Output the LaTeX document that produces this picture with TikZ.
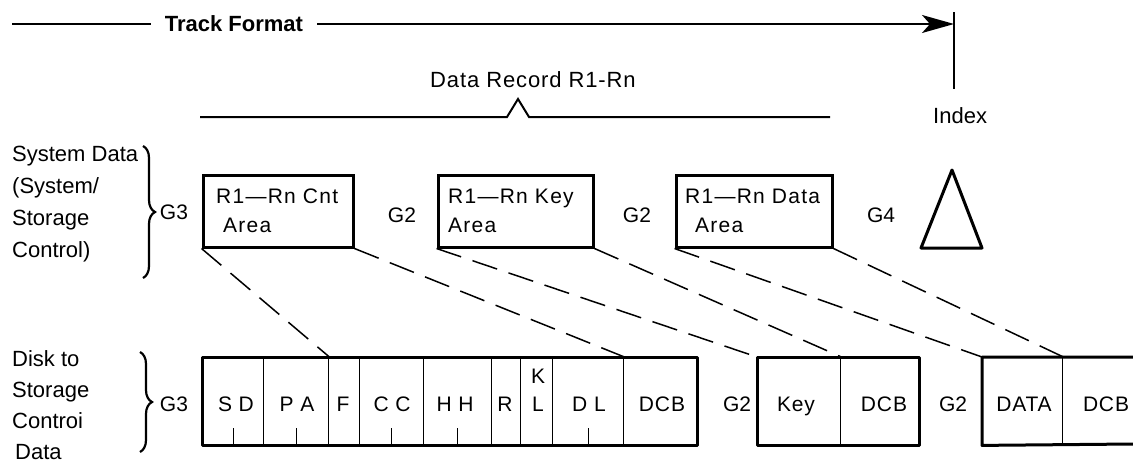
\documentclass[tikz,border=0pt]{standalone}
\usepackage{fontspec}
\setmainfont{Liberation Sans}
\newfontfamily\boxfont[LetterSpace=6]{Liberation Sans}
\newfontfamily\recfont[LetterSpace=4]{Liberation Sans}
\usetikzlibrary{decorations.pathreplacing,arrows.meta}
\begin{document}
\begin{tikzpicture}[x=1pt,y=-1pt,
  lbl/.style={font=\fontsize{22}{26}\selectfont, inner sep=0pt, anchor=base west},
  gl/.style={font=\fontsize{21}{25}\selectfont, inner sep=0pt, anchor=base},
  bx/.style={font=\boxfont\fontsize{21}{25}\selectfont, inner sep=0pt, anchor=base west},
  ct/.style={font=\recfont\fontsize{21}{25}\selectfont, inner sep=0pt, anchor=base},
  area/.style={draw, line width=3pt, minimum width=#1, minimum height=72pt, inner sep=0pt},
  cell/.style={draw, line width=1.4pt, minimum height=87pt, inner sep=0pt, anchor=north west, minimum width=#1},
  frame/.style={line width=3pt, line join=round},
  conn/.style={line width=1.5pt, dash pattern=on 26pt off 12pt},
  mainline/.style={line width=2pt},
  tick/.style={line width=1.4pt},
  br/.style={decorate, decoration={brace, amplitude=12pt}, line width=2.2pt},
]
\useasboundingbox (0,0) rectangle (1133,463);

% ---- top: Track Format ----
\coordinate (tl) at (12,24);
\node[font=\bfseries\fontsize{22}{26}\selectfont, inner xsep=14pt, inner ysep=0pt] (tf) at (234,24) {Track Format};
\coordinate (arrtip) at (954,24);
\coordinate (idxtop) at (954,12);
\coordinate (idxbot) at (954,89);
\draw[mainline] (tl) -- (tf.west);
\draw[mainline, -{Stealth[length=32pt, width=18pt, inset=8pt]}] (tf.east) -- (arrtip);
\draw[line width=2.2pt] (idxtop) -- (idxbot);
\node[lbl] (index) at (933,123) {Index};

% ---- Data record line ----
\node[lbl, font=\recfont\fontsize{22}{26}\selectfont] (drec) at (430,87) {Data Record R1-Rn};
\coordinate (d0) at (200,117);
\coordinate (d1) at (507,117);
\coordinate (d2) at (518,99);
\coordinate (d3) at (529,117);
\coordinate (d4) at (830,117);
\draw[mainline, line join=miter] (d0) -- (d1) -- (d2) -- (d3) -- (d4);

% ---- left labels ----
\node[lbl] (s1) at (12,161) {System Data};
\node[lbl] (s2) at (12,193) {(System/};
\node[lbl] (s3) at (12,225) {Storage};
\node[lbl] (s4) at (12,257) {Control)};
\node[lbl] (b1) at (12,366) {Disk to};
\node[lbl] (b2) at (12,397) {Storage};
\node[lbl] (b3) at (12,428) {Controi};
\node[lbl] (b4) at (15,459) {Data};
\coordinate (br1a) at (143,146);
\coordinate (br1b) at (143,278);
\coordinate (br2a) at (140,352);
\coordinate (br2b) at (140,452);
\draw[br] (br1a) -- (br1b);
\draw[br] (br2a) -- (br2b);

% ---- top row of areas ----
\node[gl] (g3t) at (174,219) {G3};
\node[area=150pt] (cnt) at (278,211) {};
\node[bx] at (216,203) {R1—Rn Cnt};
\node[bx] at (223,232) {Area};
\node[gl] (g2t1) at (402,222) {G2};
\node[area=155pt] (key) at (515.5,211) {};
\node[bx] at (448,203) {R1—Rn Key};
\node[bx] at (448,232) {Area};
\node[gl] (g2t2) at (637,222) {G2};
\node[area=156pt] (dat) at (754,211) {};
\node[bx] at (685,203) {R1—Rn Data};
\node[bx] at (695,232) {Area};
\node[gl] (g4) at (881,222) {G4};
\coordinate (tra) at (952,170);
\coordinate (trb) at (921,248);
\coordinate (trc) at (982,248);
\draw[line width=3pt, line join=round] (tra) -- (trb) -- (trc) -- cycle;

% ---- bottom row of fields ----
\node[gl] (g3b) at (174,411) {G3};
\node[cell=61pt] (sd) at (202,357) {};
\node[cell=65pt] (pa) at (263,357) {};
\node[cell=31pt] (f) at (328,357) {};
\node[cell=64pt] (cc) at (359,357) {};
\node[cell=68pt] (hh) at (423,357) {};
\node[cell=29pt] (r) at (491,357) {};
\node[cell=32pt] (kl) at (520,357) {};
\node[cell=71pt] (dl) at (552,357) {};
\node[cell=73pt] (dcba) at (623,357) {};
\draw[frame] (sd.north west) rectangle (dcba.south east);
\foreach \c in {sd,pa,cc,hh,dl} \draw[tick] (\c.south) -- ++(0,-17);
\node[ct] at (236,411) {S D};
\node[ct] at (297,411) {P A};
\node[ct] at (343,411) {F};
\node[ct] at (392,411) {C C};
\node[ct] at (455,411) {H H};
\node[ct] at (505,411) {R};
\node[ct] at (538,383) {K};
\node[ct] at (538,411) {L};
\node[ct] at (589,411) {D L};
\node[ct] at (662,411) {DCB};

\node[gl] (g2b1) at (737,411) {G2};
\node[cell=83pt] (keyc) at (757,357) {};
\node[cell=78pt] (dcbb) at (840,357) {};
\draw[frame] (keyc.north west) rectangle (dcbb.south east);
\node[ct] at (796,411) {Key};
\node[ct] at (884,411) {DCB};

\node[gl] (g2b2) at (953,411) {G2};
\node[cell=80pt] (datac) at (982,357) {};
\coordinate (edgeT) at (1133,357);
\coordinate (edgeB) at (1133,444);
\draw[frame] (edgeT) -- (datac.north west) -- (datac.south west) -- (edgeB);
\node[ct] at (1024,411) {DATA};
\node[ct] at (1106,411) {DCB};

% ---- dashed connectors ----
\draw[conn] (cnt.south west) -- (pa.north east);
\draw[conn] (cnt.south east) -- (dl.north east);
\draw[conn] (key.south west) -- (keyc.north west);
\draw[conn] (key.south east) -- (keyc.north east);
\draw[conn] (dat.south west) -- (datac.north west);
\draw[conn] (dat.south east) -- (datac.north east);
\end{tikzpicture}
\end{document}
